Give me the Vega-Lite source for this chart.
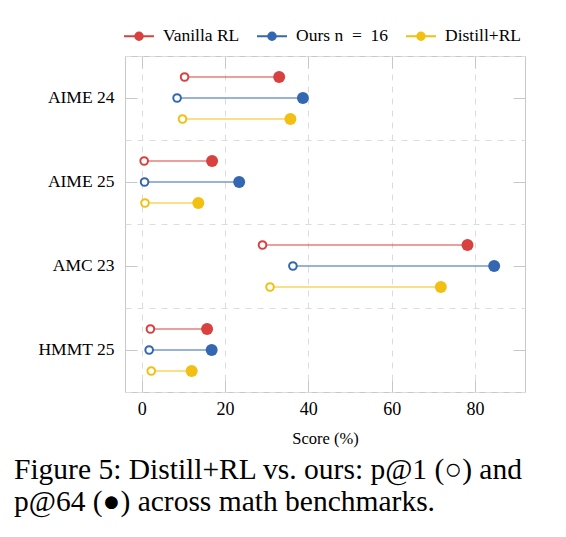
{
  "$schema": "https://vega.github.io/schema/vega-lite/v6.json",
  "width": 400,
  "height": 336,
  "autosize": {"type": "none"},
  "padding": {"left": 125, "top": 56, "right": 41, "bottom": 145},
  "background": "white",
  "config": {
    "font": "Liberation Serif",
    "view": {"stroke": "#c8c8c8", "strokeWidth": 1}
  },
  "title": {
    "text": ["Figure 5: Distill+RL vs. ours: p@1 (○) and", "p@64 (●) across math benchmarks."],
    "orient": "bottom",
    "anchor": "start",
    "frame": "group",
    "dx": -111,
    "offset": 9,
    "fontSize": 29.5,
    "font": "Liberation Serif",
    "fontWeight": "normal",
    "color": "black",
    "lineHeight": 32,
    "baseline": "top"
  },
  "data": {
    "values": [
      {"bench": "AIME 24", "method": "Vanilla RL", "p1": 10.3, "p64": 33.0},
      {"bench": "AIME 24", "method": "Ours n = 16", "p1": 8.5, "p64": 38.7},
      {"bench": "AIME 24", "method": "Distill+RL", "p1": 9.8, "p64": 35.7},
      {"bench": "AIME 25", "method": "Vanilla RL", "p1": 0.6, "p64": 16.9},
      {"bench": "AIME 25", "method": "Ours n = 16", "p1": 0.7, "p64": 23.4},
      {"bench": "AIME 25", "method": "Distill+RL", "p1": 0.8, "p64": 13.6},
      {"bench": "AMC 23", "method": "Vanilla RL", "p1": 29.0, "p64": 78.2},
      {"bench": "AMC 23", "method": "Ours n = 16", "p1": 36.3, "p64": 84.6},
      {"bench": "AMC 23", "method": "Distill+RL", "p1": 30.8, "p64": 71.8},
      {"bench": "HMMT 25", "method": "Vanilla RL", "p1": 2.1, "p64": 15.7},
      {"bench": "HMMT 25", "method": "Ours n = 16", "p1": 1.8, "p64": 16.8},
      {"bench": "HMMT 25", "method": "Distill+RL", "p1": 2.3, "p64": 12.0}
    ]
  },
  "resolve": {"axis": {"x": "independent", "y": "independent"}},
  "layer": [
    {
      "mark": {"type": "rule", "strokeWidth": 2, "opacity": 0.5},
      "encoding": {
        "x": {
          "field": "p1", "type": "quantitative",
          "scale": {"domain": [-4, 92], "nice": false, "zero": false},
          "axis": {
            "orient": "bottom", "title": "Score (%)", "titleFontSize": 16.5, "titleFontWeight": "normal",
            "titleColor": "black", "titlePadding": 12, "labelFontSize": 18, "labelColor": "black",
            "values": [0, 20, 40, 60, 80], "tickSize": -12, "tickColor": "#c8c8c8", "domain": false,
            "grid": true, "gridDash": [6, 6], "gridColor": "#dcdcdc", "labelPadding": 20
          }
        },
        "x2": {"field": "p64"},
        "y": {
          "field": "bench", "type": "nominal",
          "sort": ["AIME 24", "AIME 25", "AMC 23", "HMMT 25"],
          "scale": {"paddingInner": 0, "paddingOuter": 0},
          "axis": {
            "orient": "left", "title": null, "labelFontSize": 17.5, "labelColor": "black",
            "tickSize": -12, "tickColor": "#c8c8c8", "domain": false, "grid": false, "labelPadding": 23
          }
        },
        "yOffset": {
          "field": "method", "type": "nominal",
          "sort": ["Vanilla RL", "Ours n = 16", "Distill+RL"],
          "scale": {"paddingInner": 0, "paddingOuter": 0.5}
        },
        "color": {
          "field": "method", "type": "nominal",
          "scale": {"domain": ["Vanilla RL", "Ours n = 16", "Distill+RL"], "range": ["#d8413e", "#3467b2", "#f2c012"]},
          "legend": {
            "orient": "none", "legendX": -2, "legendY": -36, "direction": "horizontal", "title": null,
            "symbolType": "M-1,0L1,0M-0.25,0A0.25,0.25,0,1,1,0.25,0A0.25,0.25,0,1,1,-0.25,0Z",
            "symbolSize": 900, "symbolStrokeWidth": 2, "symbolOpacity": 1, "labelFontSize": 17.5, "labelFont": "Liberation Serif",
            "labelColor": "black", "labelOffset": 8, "columnPadding": 13,
            "labelExpr": "datum.label == 'Ours n = 16' ? 'Ours n\u2002=\u200216' : datum.label",
            "encode": {
              "symbols": {
                "update": {
                  "fill": {"scale": "color", "field": "value"},
                  "stroke": {"scale": "color", "field": "value"},
                  "strokeWidth": {"value": 2},
                  "opacity": {"value": 1}
                }
              }
            }
          }
        }
      }
    },
    {
      "mark": {"type": "point", "shape": "circle", "filled": false, "fill": "white", "strokeWidth": 2, "size": 58, "opacity": 1},
      "encoding": {
        "x": {
          "field": "p1", "type": "quantitative",
          "axis": {"orient": "top", "title": null, "labels": false, "values": [0, 20, 40, 60, 80],
                   "tickSize": -12, "tickColor": "#c8c8c8", "domain": false, "grid": false}
        },
        "y": {
          "field": "bench", "type": "nominal",
          "sort": ["AIME 24", "AIME 25", "AMC 23", "HMMT 25"],
          "axis": {"orient": "right", "title": null, "labels": false, "tickSize": -12,
                   "tickColor": "#c8c8c8", "domain": false, "grid": false}
        },
        "yOffset": {"field": "method", "type": "nominal", "sort": ["Vanilla RL", "Ours n = 16", "Distill+RL"]},
        "color": {"field": "method", "type": "nominal"}
      }
    },
    {
      "mark": {"type": "point", "shape": "circle", "filled": true, "size": 144, "opacity": 1},
      "encoding": {
        "x": {"field": "p64", "type": "quantitative", "axis": null},
        "y": {
          "field": "bench", "type": "nominal",
          "sort": ["AIME 24", "AIME 25", "AMC 23", "HMMT 25"],
          "axis": {"orient": "left", "title": null, "labels": false, "ticks": false, "domain": false,
                   "grid": true, "tickBand": "extent", "gridDash": [6, 6], "gridColor": "#dcdcdc"}
        },
        "yOffset": {"field": "method", "type": "nominal", "sort": ["Vanilla RL", "Ours n = 16", "Distill+RL"]},
        "color": {"field": "method", "type": "nominal"}
      }
    }
  ]
}
